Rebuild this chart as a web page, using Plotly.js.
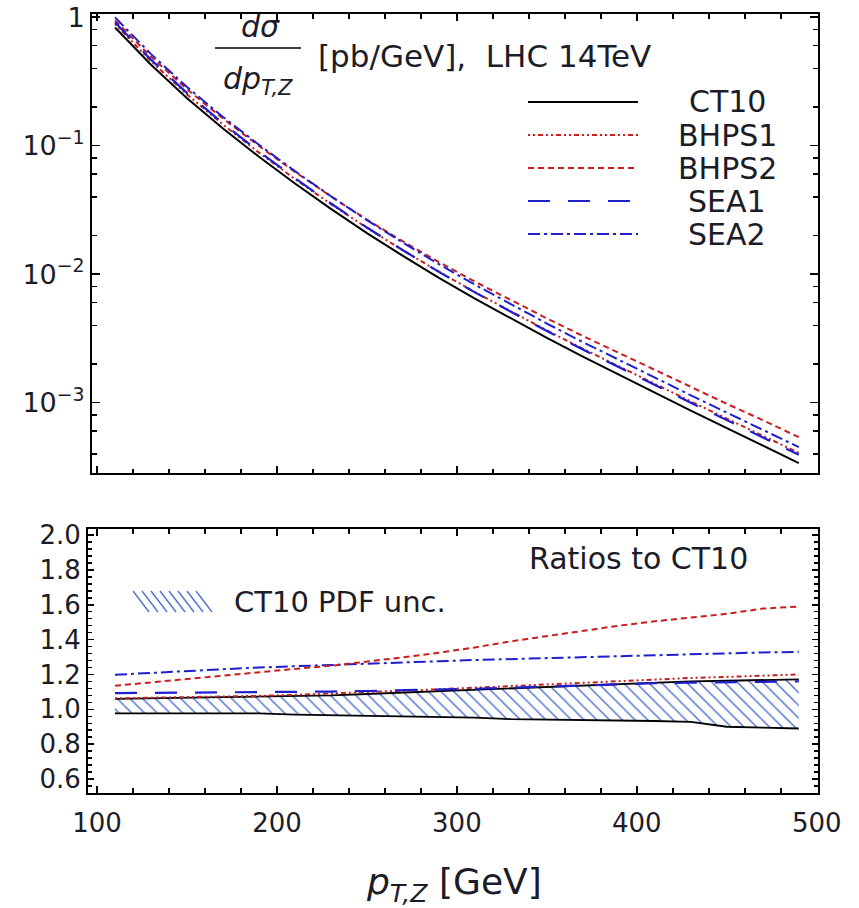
<!DOCTYPE html>
<html><head><meta charset="utf-8">
<script src="https://cdn.plot.ly/plotly-3.0.1.min.js"></script>
<style>html,body{margin:0;padding:0;background:#fff}</style>
</head><body>
<div id="chart" style="width:859px;height:908px"></div>
<script>
// ---- data ----
const pT = [110,130,150,170,190,210,230,250,270,290,310,330,350,370,390,410,430,450,470,490];

// dσ/dpT,Z [pb/GeV]
const ct10  = [0.832,0.4266,0.2344,0.1361,0.08204,0.05082,0.03221,0.02089,0.01387,0.009376,0.006457,0.004508,0.003192,0.002280,0.001644,0.001191,0.000867,0.000634,0.000463,0.000339];
const bhps1 = [0.884,0.4548,0.2508,0.1460,0.08836,0.05504,0.03511,0.02294,0.01534,0.010454,0.007258,0.005112,0.003652,0.002631,0.001914,0.001396,0.001023,0.000752,0.000552,0.000407];
const bhps2 = [0.944,0.4927,0.2754,0.1626,0.09951,0.06261,0.04026,0.02657,0.01800,0.012423,0.008749,0.006266,0.004533,0.003306,0.002433,0.001792,0.001322,0.000981,0.000731,0.000539];
const sea1  = [0.9094,0.4667,0.2569,0.1493,0.09016,0.05590,0.03550,0.02308,0.01537,0.010426,0.007219,0.005067,0.003610,0.002595,0.001882,0.001370,0.001000,0.000732,0.000536,0.000393];
const sea2  = [0.9967,0.5162,0.2860,0.1674,0.1017,0.06342,0.04042,0.02636,0.01760,0.011964,0.008284,0.005811,0.004134,0.002964,0.002147,0.001563,0.001142,0.000838,0.000614,0.000451];

// ratios to CT10
const rBhps1 = [1.063,1.066,1.07,1.073,1.077,1.083,1.09,1.098,1.106,1.115,1.124,1.134,1.144,1.154,1.164,1.172,1.18,1.186,1.193,1.20];
const rBhps2 = [1.135,1.155,1.175,1.195,1.213,1.232,1.25,1.272,1.298,1.325,1.355,1.39,1.42,1.45,1.48,1.505,1.525,1.548,1.578,1.59];
const rSea1  = [1.093,1.094,1.096,1.097,1.099,1.10,1.102,1.105,1.108,1.112,1.118,1.124,1.131,1.138,1.145,1.15,1.153,1.155,1.158,1.16];
const rSea2  = [1.198,1.21,1.22,1.23,1.24,1.248,1.255,1.262,1.269,1.276,1.283,1.289,1.295,1.30,1.306,1.312,1.317,1.321,1.326,1.33];
const pdfUp  = [1.06,1.063,1.066,1.068,1.07,1.074,1.08,1.088,1.096,1.105,1.114,1.123,1.132,1.14,1.148,1.155,1.16,1.164,1.168,1.172];
const pdfLo  = [0.977,0.977,0.977,0.977,0.977,0.97,0.967,0.965,0.96,0.955,0.952,0.944,0.942,0.938,0.934,0.933,0.928,0.90,0.895,0.89];

const seriesNames = ['CT10','BHPS1','BHPS2','SEA1','SEA2'];
const topTickVals = [0.001,0.01,0.1,1];
const topTickText = ['10<sup>−3</sup>','10<sup>−2</sup>','10<sup>−1</sup>','1'];
const topMinorVals = [0.0004,0.0006,0.0008,0.002,0.004,0.006,0.008,0.02,0.04,0.06,0.08,0.2,0.4,0.6,0.8];

// ---- styles ----
const RED = '#c81e1e', BLUE = '#1f1fcc', HATCH = '#4f72d0';
const styles = {
  CT10:  {color:'#000', dash:'solid', width:2},
  BHPS1: {color:RED, dash:'2px,3px,2px,3px,5px,3px', width:2},
  BHPS2: {color:RED, dash:'6px,4px', width:2},
  SEA1:  {color:BLUE, dash:'22px,18px', width:2.2},
  SEA2:  {color:BLUE, dash:'12px,4px,3px,4px', width:2}
};
const topData = {CT10:ct10, BHPS1:bhps1, BHPS2:bhps2, SEA1:sea1, SEA2:sea2};
const ratioData = {BHPS1:rBhps1, BHPS2:rBhps2, SEA1:rSea1, SEA2:rSea2};

const traces = [];
seriesNames.forEach(n => {
  traces.push({x:pT, y:topData[n], name:n, type:'scatter', mode:'lines', xaxis:'x', yaxis:'y',
    line:{color:styles[n].color, dash:styles[n].dash, width:styles[n].width}});
});
traces.push({x:pT, y:pdfLo, name:'CT10 PDF unc. (low)', type:'scatter', mode:'lines', xaxis:'x2', yaxis:'y2',
  line:{color:'#000', width:1.8}});
traces.push({x:pT, y:pdfUp, name:'CT10 PDF unc.', type:'scatter', mode:'lines', xaxis:'x2', yaxis:'y2',
  fill:'tonexty', fillcolor:'rgba(255,255,255,0)',
  fillpattern:{shape:'\\', fgcolor:HATCH, bgcolor:'rgba(255,255,255,0)', size:9, solidity:0.16},
  line:{color:'#000', width:1.8}});
['BHPS1','SEA1','SEA2','BHPS2'].forEach(n => {
  traces.push({x:pT, y:ratioData[n], name:n+' / CT10', type:'scatter', mode:'lines', xaxis:'x2', yaxis:'y2',
    line:{color:styles[n].color, dash:styles[n].dash, width:styles[n].width}});
});

// ---- layout helpers (paper coordinates from pixels) ----
const W = 859, H = 908;
const X = px => px / W, Y = py => 1 - py / H;
const TXT = '#1c1c28';
const FONT = 'DejaVu Sans, Liberation Sans, Arial, sans-serif';

const axBase = {showline:true, linecolor:'#000', linewidth:2, mirror:'allticks', ticks:'inside',
  tickcolor:'#000', tickwidth:1.5, showgrid:false, zeroline:false};

const shapes = [];
const annotations = [];
// top legend
const legRows = [102,135,168,201,234];
seriesNames.forEach((n,i) => {
  shapes.push({type:'line', xref:'paper', yref:'paper', x0:X(528), x1:X(638), y0:Y(legRows[i]), y1:Y(legRows[i]),
    line:{color:styles[n].color, dash:styles[n].dash, width:styles[n].width}});
  annotations.push({xref:'paper', yref:'paper', x:X(727), y:Y(legRows[i]), xanchor:'center', yanchor:'middle',
    text:n, showarrow:false, font:{size:30, color:TXT, family:FONT}});
});
// fraction label
shapes.push({type:'line', xref:'paper', yref:'paper', x0:X(215), x1:X(301), y0:Y(48), y1:Y(48), line:{color:'#000', width:1.5}});
annotations.push({xref:'paper', yref:'paper', x:X(260), y:Y(26), xanchor:'center', yanchor:'middle',
  text:'<i>dσ</i>', showarrow:false, font:{size:30, color:TXT, family:FONT}});
annotations.push({xref:'paper', yref:'paper', x:X(258), y:Y(80), xanchor:'center', yanchor:'middle',
  text:'<i>dp</i><sub><i>T,Z</i></sub>', showarrow:false, font:{size:30, color:TXT, family:FONT}});
annotations.push({xref:'paper', yref:'paper', x:X(316), y:Y(56), xanchor:'left', yanchor:'middle',
  text:'[pb/GeV],  LHC 14TeV', showarrow:false, font:{size:31, color:TXT, family:FONT}});
// bottom panel texts
annotations.push({xref:'paper', yref:'paper', x:X(638), y:Y(558), xanchor:'center', yanchor:'middle',
  text:'Ratios to CT10', showarrow:false, font:{size:30, color:TXT, family:FONT}});
annotations.push({xref:'paper', yref:'paper', x:X(232), y:Y(602), xanchor:'left', yanchor:'middle',
  text:'CT10 PDF unc.', showarrow:false, font:{size:29, color:TXT, family:FONT}});
for (let i = 0; i < 8; i++) {
  const x0 = 133 + i * 9;
  shapes.push({type:'line', xref:'paper', yref:'paper', x0:X(x0), x1:X(x0 + 16), y0:Y(591), y1:Y(612),
    line:{color:HATCH, width:1.4}});
}
// x title
annotations.push({xref:'paper', yref:'paper', x:X(454), y:Y(884), xanchor:'center', yanchor:'middle',
  text:'<i>p</i><sub><i>T,Z</i></sub> [GeV]', showarrow:false, font:{size:36, color:TXT, family:FONT}});

const layout = {
  width:W, height:H, margin:{l:0, r:0, t:0, b:0}, showlegend:false,
  paper_bgcolor:'#fff', plot_bgcolor:'#fff',
  font:{family:FONT, color:TXT},
  xaxis:Object.assign({}, axBase, {domain:[X(92), X(817.5)], range:[97.2, 500.4], anchor:'y',
    showticklabels:false, tick0:100, dtick:100, ticklen:7,
    minor:{ticks:'inside', tick0:100, dtick:20, ticklen:4.5, tickcolor:'#000', tickwidth:1.5, showgrid:false}}),
  yaxis:Object.assign({}, axBase, {domain:[Y(473), Y(14)], type:'log', range:[-3.547, 0.025], anchor:'x',
    tickmode:'array', tickvals:topTickVals, ticktext:topTickText, ticklen:8,
    tickfont:{size:27, color:TXT, family:FONT},
    minor:{tickmode:'array', tickvals:topMinorVals, ticks:'inside', ticklen:5, tickcolor:'#000', tickwidth:1.5, showgrid:false}}),
  xaxis2:Object.assign({}, axBase, {domain:[X(88), X(817.5)], range:[95, 500.4], anchor:'y2',
    tick0:100, dtick:100, ticklen:7, tickfont:{size:26, color:TXT, family:FONT}, ticklabelstandoff:6,
    minor:{ticks:'inside', tick0:100, dtick:20, ticklen:4.5, tickcolor:'#000', tickwidth:1.5, showgrid:false}}),
  yaxis2:Object.assign({}, axBase, {domain:[Y(792.7), Y(529.3)], range:[0.5215, 2.033], anchor:'x2',
    tick0:0, dtick:0.2, tickformat:'.1f', ticklen:6, tickfont:{size:26, color:TXT, family:FONT},
    minor:{ticks:'inside', tick0:0, dtick:0.04, ticklen:4, tickcolor:'#000', tickwidth:1.5, showgrid:false}}),
  shapes:shapes, annotations:annotations
};

Plotly.newPlot('chart', traces, layout, {displayModeBar:false, staticPlot:true});
</script>
</body></html>
